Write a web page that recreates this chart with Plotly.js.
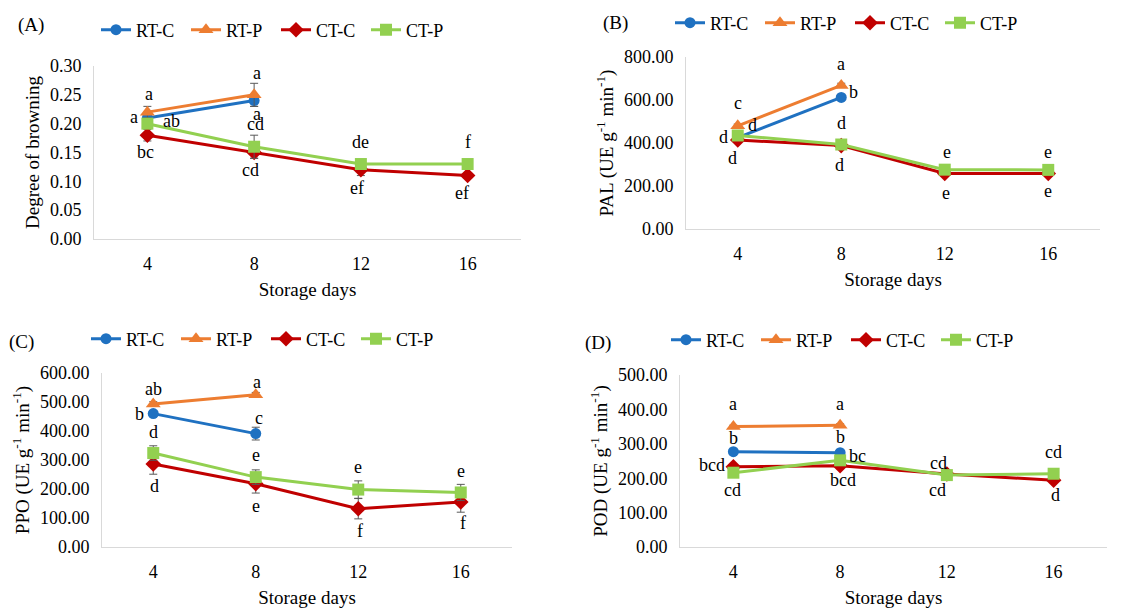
<!DOCTYPE html>
<html><head><meta charset="utf-8">
<script src="https://cdn.plot.ly/plotly-3.0.1.min.js"></script>
<style>html,body{margin:0;padding:0;background:#fff}#chart{width:1137px;height:608px}</style>
</head><body><div id="chart"></div>
<script>
// ---------- data ----------
const days = ['4', '8', '12', '16'];
const seriesNames = ['RT-C', 'RT-P', 'CT-C', 'CT-P'];

// (A) Degree of browning
const browningRTC = [0.21, 0.24, null, null];
const browningRTP = [0.22, 0.25, null, null];
const browningCTC = [0.18, 0.15, 0.12, 0.11];
const browningCTP = [0.20, 0.16, 0.13, 0.13];
const browningErrRTC = [0.01, 0.01, 0, 0];
const browningErrRTP = [0.01, 0.02, 0, 0];
const browningErrCTC = [0.01, 0.01, 0.01, 0.005];
const browningErrCTP = [0.005, 0.02, 0.005, 0.005];

// (B) PAL
const palRTC = [425, 612, null, null];
const palRTP = [480, 668, null, null];
const palCTC = [414, 388, 258, 258];
const palCTP = [435, 393, 276, 275];
const palErrRTC = [8, 10, 0, 0];
const palErrRTP = [8, 10, 0, 0];
const palErrCTC = [8, 8, 8, 8];
const palErrCTP = [8, 8, 8, 8];

// (C) PPO
const ppoRTC = [460, 391, null, null];
const ppoRTP = [493, 525, null, null];
const ppoCTC = [286, 218, 132, 155];
const ppoCTP = [324, 241, 198, 188];
const ppoErrRTC = [10, 22, 0, 0];
const ppoErrRTP = [8, 8, 0, 0];
const ppoErrCTC = [35, 32, 35, 35];
const ppoErrCTP = [25, 25, 30, 28];

// (D) POD
const podRTC = [277, 274, null, null];
const podRTP = [350, 354, null, null];
const podCTC = [233, 236, 212, 194];
const podCTP = [216, 252, 209, 213];
const podErrRTC = [4, 4, 0, 0];
const podErrRTP = [4, 4, 0, 0];
const podErrCTC = [5, 5, 5, 5];
const podErrCTP = [5, 5, 5, 5];

// significance letters: [text, category index, y]
const lettersA = [['a',0.016,0.252],['a',-0.125,0.211],['ab',0.23,0.204],['bc',-0.02,0.151],
  ['a',1.025,0.287],['a',1.025,0.217],['cd',1.015,0.199],['cd',0.97,0.119],
  ['de',2.0,0.168],['ef',1.96,0.089],['f',3.0,0.169],['ef',2.945,0.080]];
const lettersB = [['c',0,584],['d',0.14,483],['d',-0.14,429],['d',-0.05,332],
  ['a',1,769],['b',1.12,635],['d',1,494],['d',0.98,298],
  ['e',2.02,360],['e',2.01,167],['e',3,357],['e',3,175]];
const lettersC = [['ab',0,546],['b',-0.13,457],['d',0,397],['d',0.015,212],
  ['a',1.016,569],['c',1.03,445],['e',1,316],['e',1,140],
  ['e',2,275],['f',2.02,54],['e',3,262],['f',3.02,82]];
const lettersD = [['a',0,415],['b',0.005,317],['bcd',-0.2,238],['cd',-0.01,167],
  ['a',1,417],['b',1.005,319],['bc',1.16,266],['bcd',1.025,194],
  ['cd',1.92,245],['cd',1.91,165],['cd',3,277],['d',3.015,151]];

// ---------- styles ----------
const FONT = '"Liberation Serif", "Times New Roman", "DejaVu Serif", serif';
const colors = ['#1f71c1', '#ed7d31', '#c00000', '#92d050'];
const symbols = ['circle', 'triangle-up', 'diamond', 'square'];
const msizes = [11, 13, 12, 12];

const panels = [
  {label:'(A)', vals:[browningRTC,browningRTP,browningCTC,browningCTP],
   errs:[browningErrRTC,browningErrRTP,browningErrCTC,browningErrCTP],
   letters:lettersA, ytitle:'Degree of browning', range:[0,0.30], dtick:0.05,
   dx:[94,521], dy:[66,239], legend:{x:96,y:30}, lab:{x:16,y:25}},
  {label:'(B)', vals:[palRTC,palRTP,palCTC,palCTP],
   errs:[palErrRTC,palErrRTP,palErrCTC,palErrCTP],
   letters:lettersB, ytitle:'PAL (UE g<sup>-1</sup> min<sup>-1</sup>)', range:[0,800], dtick:200,
   dx:[686,1100], dy:[57,229], legend:{x:670,y:23}, lab:{x:601,y:23}},
  {label:'(C)', vals:[ppoRTC,ppoRTP,ppoCTC,ppoCTP],
   errs:[ppoErrRTC,ppoErrRTP,ppoErrCTC,ppoErrCTP],
   letters:lettersC, ytitle:'PPO (UE g<sup>-1</sup> min<sup>-1</sup>)', range:[0,600], dtick:100,
   dx:[102,512], dy:[373,547], legend:{x:86,y:339}, lab:{x:7,y:342}},
  {label:'(D)', vals:[podRTC,podRTP,podCTC,podCTP],
   errs:[podErrRTC,podErrRTP,podErrCTC,podErrCTP],
   letters:lettersD, ytitle:'POD (UE g<sup>-1</sup> min<sup>-1</sup>)', range:[0,500], dtick:100,
   dx:[680,1107], dy:[375,547], legend:{x:666,y:340}, lab:{x:583,y:343}}
];

const W = 1137, H = 608;
const traces = [];
const layout = {
  width: W, height: H, autosize: false,
  margin: {l:0, r:0, t:0, b:0},
  paper_bgcolor: '#fff', plot_bgcolor: '#fff',
  font: {family: FONT, size: 18, color: '#000'},
  annotations: [], showlegend: true
};

panels.forEach((p, i) => {
  const n = i === 0 ? '' : String(i + 1);
  const xa = 'x' + n, ya = 'y' + n, lg = 'legend' + n;
  p.vals.forEach((v, s) => {
    traces.push({
      type: 'scatter', mode: 'lines+markers', name: seriesNames[s],
      x: days, y: v, xaxis: xa, yaxis: ya, legend: lg,
      line: {color: colors[s], width: 3},
      marker: {symbol: symbols[s], size: msizes[s], color: colors[s]},
      error_y: {type: 'data', array: p.errs[s], visible: true, color: '#595959', thickness: 1, width: 4},
      hoverinfo: 'x+y'
    });
  });
  layout['xaxis' + n] = {
    domain: [p.dx[0] / W, p.dx[1] / W], anchor: ya, type: 'category',
    range: [-0.5, 3.5], showline: true, linecolor: '#d9d9d9', linewidth: 1,
    showgrid: false, zeroline: false, ticks: '', ticklabelstandoff: 8,
    tickfont: {family: FONT, size: 18},
    title: {text: 'Storage days', font: {family: FONT, size: 19}, standoff: 10}
  };
  layout['yaxis' + n] = {
    domain: [1 - p.dy[1] / H, 1 - p.dy[0] / H], anchor: xa,
    range: p.range, dtick: p.dtick, tick0: 0, tickformat: '.2f',
    showline: true, linecolor: '#d9d9d9', linewidth: 1,
    showgrid: false, zeroline: false, ticks: '', ticklabelstandoff: 8,
    tickfont: {family: FONT, size: 18},
    title: {text: p.ytitle, font: {family: FONT, size: 19}, standoff: 5}
  };
  layout[lg] = {
    orientation: 'h', x: p.legend.x / W, y: 1 - p.legend.y / H,
    xanchor: 'left', yanchor: 'middle', bgcolor: 'rgba(0,0,0,0)',
    font: {family: FONT, size: 18}, itemwidth: 30, tracegroupgap: 0,
    entrywidth: 45, entrywidthmode: 'pixels'
  };
  layout.annotations.push({
    xref: 'paper', yref: 'paper', x: p.lab.x / W, y: 1 - p.lab.y / H,
    xanchor: 'left', yanchor: 'middle', showarrow: false, text: p.label,
    font: {family: FONT, size: 19}
  });
  p.letters.forEach(l => {
    layout.annotations.push({
      xref: xa, yref: ya, x: l[1], y: l[2], text: l[0], showarrow: false,
      xanchor: 'center', yanchor: 'middle', font: {family: FONT, size: 18}
    });
  });
});

Plotly.newPlot('chart', traces, layout, {displayModeBar: false});
</script>
</body></html>
